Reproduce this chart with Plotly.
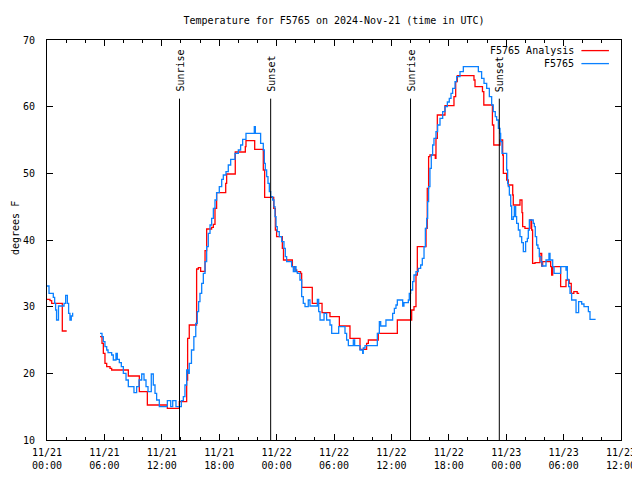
import pandas as pd
import plotly.graph_objects as go

BASE = pd.Timestamp("2024-11-21 00:00")

# Observations (F5765), hours since 2024-11-21 00:00 UTC; None = gap
obs_hours = [0.0, 0.21, 0.66, 0.80, 0.90, 1.0, 1.2, 1.78, 1.95, 2.13, 2.26, 2.40, 2.54, 2.68, 4.0,
             5.54, 5.75, 5.89, 6.06, 6.24, 6.38, 6.76, 6.93, 7.21, 7.35, 7.56, 7.77, 7.98, 8.26, 8.50,
             9.09, 9.37, 9.62, 9.90, 10.14, 10.35, 10.56, 10.90, 11.11, 11.29, 11.46, 11.74, 12.58,
             12.93, 13.14, 13.48, 14.04, 14.25, 14.42, 14.6, 14.77, 14.87, 15.1, 15.35, 15.55, 15.71,
             15.85, 15.99, 16.17, 16.34, 16.52, 16.69, 16.86, 17.04, 17.21, 17.39, 17.56, 17.73, 18.01,
             18.26, 18.43, 18.71, 18.95, 19.20, 19.65, 20.0, 20.24, 20.45, 20.80, 21.67, 21.78, 22.33,
             22.61, 22.72, 22.82, 22.96, 23.10, 23.24, 23.38, 23.59, 23.73, 23.83, 23.94, 24.07, 24.28,
             24.53, 24.77, 24.91, 25.05, 25.57, 25.75, 25.92, 26.03, 26.17, 26.44, 26.62, 26.79, 26.97,
             27.31, 27.49, 28.26, 28.40, 28.54, 28.96, 29.23, 29.58, 29.76, 30.49, 31.15, 31.32, 31.50,
             32.02, 32.16, 32.72, 33.0, 33.06, 33.24, 34.53, 34.74, 34.88, 35.43, 36.13, 36.31, 36.48,
             36.62, 37.18, 37.31, 37.77, 37.87, 38.01, 38.22, 38.36, 38.57, 38.81, 39.06, 39.23, 39.41,
             39.55, 39.69, 39.79, 39.89, 40.03, 40.17, 40.31, 40.45, 40.66, 40.83, 41.08, 41.36, 41.60,
             41.85, 42.05, 42.23, 42.40, 42.65, 42.82, 43.17, 43.52, 45.09, 45.43, 45.68, 45.96, 46.24,
             46.48, 46.65, 46.86, 47.0, 47.18, 47.35, 47.42, 47.56, 48.05, 48.15, 48.22, 48.33, 48.47,
             48.57, 48.74, 48.85, 48.99, 49.09, 49.27, 49.44, 49.62, 49.79, 50.03, 50.21, 50.31, 50.42,
             50.83, 50.94, 51.04, 51.18, 51.32, 51.46, 51.64, 51.74, 52.16, 52.47, 52.58, 52.86, 53.0,
             53.69, 54.25, 54.32, 54.39, 54.53, 54.67, 54.84, 55.30, 55.57, 55.89, 56.13, 56.59, 56.76,
             57.28]
obs_temps = [33.1, 32.0, 31.4, 30.5, 29.5, 28.0, 30.1, 30.5, 31.7, 30.5, 29.0, 28.0, 28.6, 29.1, None,
             26.0, 25.5, 24.75, 24.0, 23.5, 23.1, 22.75, 22.0, 23.0, 22.1, 21.6, 21.0, 20.0, 19.0, 18.0,
             17.1, 18.0, 19.0, 19.9, 19.0, 18.0, 17.25, 19.9, 18.25, 17.0, 16.0, 15.0, 15.9,
             15.0, 15.9, 15.0, 15.9, 16.5, 18.25, 20.5, 20.0, 21.5, 23.5, 25.5, 27.5, 29.25,
             30.75, 32.0, 33.5, 35.0, 36.75, 39.0, 41.0, 42.25, 43.25, 44.75, 46.0, 47.1, 48.0,
             49.1, 49.75, 50.25, 51.25, 52.1, 53.0, 53.5, 54.25, 55.1, 56.0, 57.0, 56.0, 54.5,
             53.5, 51.5, 50.5, 49.5, 48.5, 47.25, 46.5, 46.0, 45.0, 43.5, 42.0, 41.25, 40.5,
             39.75, 38.75, 37.5, 36.75, 36.0, 35.25, 36.0, 35.25, 35.0, 34.0, 31.5, 30.5, 30.0,
             31.0, 30.1, 31.1, 29.25, 28.0, 29.0, 28.0, 27.25, 26.0, 27.0, 26.0, 25.0, 24.15,
             25.0, 24.15, 23.5, 23.0, 23.8, 24.15, 26.0, 27.75, 27.1, 28.0, 29.0, 29.75, 30.25,
             31.0, 30.1, 30.6, 31.0, 32.0, 32.5, 33.75, 34.75, 35.25, 35.75, 36.25, 37.25, 39.0,
             41.75, 43.25, 45.75, 48.0, 50.75, 52.75, 54.25, 55.25, 56.25, 57.25, 58.25, 59.25, 60.0,
             60.7, 61.25, 62.0, 62.75, 63.75, 64.5, 65.25, 66.0, 65.25, 64.25, 63.5, 62.75, 61.5,
             60.25, 59.25, 58.5, 58.0, 56.75, 56.0, 54.75, 53.0, 50.5, 48.5, 48.0, 46.75, 45.1,
             43.1, 43.5, 45.0, 43.5, 42.5, 41.5, 40.5, 39.6, 38.25, 39.75, 40.25, 41.5, 43.0,
             42.5, 42.0, 40.5, 39.25, 38.75, 37.5, 36.75, 36.1, 37.0, 38.0, 37.0, 36.0, 35.0,
             36.0, 35.5, 36.0, 34.1, 33.0, 32.0, 31.0, 29.1, 30.75, 30.4, 30.0, 29.25, 28.1,
             28.0]

# Analysis (F5765 Analysis)
ana_hours = [0.0, 0.31, 0.49, 1.60, 2.06, 4.0,
             5.54, 5.75, 5.89, 6.06, 6.24, 6.59, 6.76, 8.50, 9.65, 10.49, 12.58, 13.83, 14.6, 14.7,
             14.87, 15.64, 15.82, 16.06, 16.52, 16.69, 17.21, 17.39, 17.56, 17.73, 18.68, 18.78, 19.68,
             20.73, 20.80, 21.71, 22.61, 22.75, 23.70, 23.87, 24.0, 24.6, 24.72, 25.65, 25.92, 26.10,
             26.51, 26.62, 27.73, 28.75, 29.58, 30.56, 31.67, 32.72, 33.41, 33.59, 34.63, 36.62, 38.12,
             38.36, 38.57, 38.71, 39.62, 39.75, 39.89, 40.03, 40.59, 40.66, 40.80, 41.60, 42.54, 42.72,
             42.89, 44.63, 44.74, 45.52, 45.66, 46.56, 46.70, 47.35, 47.63, 47.70, 48.05, 48.22, 48.68,
             48.74, 49.44, 49.65, 49.72, 49.96, 50.49, 50.66, 50.76, 51.01, 51.53, 51.71, 51.81, 52.65,
             52.75, 52.86, 53.69, 54.25, 54.59, 54.80, 55.07, 55.42, 55.63]
ana_temps = [31.1, 30.9, 30.5, 26.35, 26.35, None,
             25.5, 24.5, 23.0, 21.5, 21.0, 20.75, 20.5, 19.6, 17.25, 15.25, 14.75, 15.75, 19.0, 25.25,
             27.25, 35.65, 35.85, 35.3, 38.4, 41.65, 41.9, 42.35, 44.75, 47.1, 48.5, 49.9, 53.2,
             54.0, 54.9, 53.6, 50.5, 46.4, 44.75, 41.5, 40.5, 38.75, 37.0, 36.0, 35.5, 35.25,
             35.0, 32.9, 30.5, 29.1, 28.5, 27.1, 25.25, 23.6, 24.5, 25.0, 26.0, 28.0, 29.5,
             30.0, 34.75, 39.0, 41.75, 47.75, 52.5, 52.75, 52.25, 55.25, 58.75, 60.15, 61.5, 63.75,
             64.65, 64.0, 63.0, 62.25, 60.25, 57.25, 54.25, 55.0, 52.75, 50.0, 49.0, 48.25, 46.75,
             45.25, 46.0, 44.1, 42.0, 41.75, 43.0, 41.5, 36.5, 36.6, 38.0, 36.1, 36.75, 36.0,
             34.75, 36.0, 33.0, 34.0, 33.5, 32.0, 32.25, 32.0, 32.0]

event_hours = [13.85, 23.38, 38.0, 47.28]
event_labels = ["Sunrise", "Sunset", "Sunrise", "Sunset"]
event_line_top = 61.2

x_start, x_end = "2024-11-21 00:00", "2024-11-23 12:00"
y_min, y_max, y_step = 10, 70, 10

title_text = "Temperature for F5765 on 2024-Nov-21 (time in UTC)"
y_label = "degrees F"
ana_name, obs_name = "F5765 Analysis", "F5765"
ana_color, obs_color = "#ff0000", "#0a80ff"

FONT = "DejaVu Sans Mono"

# the page body adds an 8px margin; size the figure so the page does not overflow
FIG_W, FIG_H = 632, 464


def to_times(hours):
    return [BASE + pd.Timedelta(hours=h) for h in hours]


fig = go.Figure()
fig.add_trace(go.Scatter(x=to_times(ana_hours), y=ana_temps, mode="lines", name=ana_name,
                         line=dict(color=ana_color, width=1.3, shape="hv"), connectgaps=False))
fig.add_trace(go.Scatter(x=to_times(obs_hours), y=obs_temps, mode="lines", name=obs_name,
                         line=dict(color=obs_color, width=1.3, shape="hv"), connectgaps=False))

for h, lab in zip(event_hours, event_labels):
    t = BASE + pd.Timedelta(hours=h)
    fig.add_shape(type="line", xref="x", yref="y", x0=t, x1=t, y0=y_min, y1=event_line_top,
                  line=dict(color="black", width=1))
    fig.add_annotation(x=t, y=event_line_top + 0.7, xref="x", yref="y", text=lab, textangle=-90,
                       showarrow=False, xanchor="center", yanchor="bottom",
                       font=dict(family=FONT, size=10, color="black"))

# gnuplot-style key (text right, sample line on the right)
for i, (name, col) in enumerate([(ana_name, ana_color), (obs_name, obs_color)]):
    yp = 0.9735 - i * 0.0325
    fig.add_annotation(x=0.921, y=yp, xref="paper", yref="paper", text=name, showarrow=False,
                       xanchor="right", yanchor="middle", font=dict(family=FONT, size=10, color="black"))
    fig.add_shape(type="line", xref="paper", yref="paper", x0=0.931, x1=0.979, y0=yp, y1=yp,
                  line=dict(color=col, width=1.3))

fig.add_annotation(x=-0.0557, y=0.53, xref="paper", yref="paper", text=y_label, textangle=-90,
                   showarrow=False, xanchor="center", yanchor="middle",
                   font=dict(family=FONT, size=10, color="black"))

fig.update_layout(
    width=FIG_W, height=FIG_H,
    margin=dict(l=39, r=19, t=32, b=32, autoexpand=False),
    paper_bgcolor="white", plot_bgcolor="white",
    showlegend=False,
    font=dict(family=FONT, size=10, color="black"),
    title=dict(text=title_text, xref="paper", x=0.5, xanchor="center",
               yref="container", y=1 - 12 / FIG_H, yanchor="middle",
               font=dict(family=FONT, size=10, color="black")),
    xaxis=dict(type="date", range=[x_start, x_end], dtick=6 * 3600 * 1000,
               tick0="2024-11-21 00:00", tickformat="%m/%d<br>%H:%M",
               ticks="inside", ticklen=6, tickcolor="black", tickwidth=1,
               minor=dict(dtick=2 * 3600 * 1000, ticks="inside", ticklen=3, tickcolor="black"),
               showline=True, linecolor="black", linewidth=1, mirror="allticks",
               showgrid=False, zeroline=False, ticklabelstandoff=3, automargin=False,
               ticklabeloverflow="allow"),
    yaxis=dict(range=[y_min, y_max], dtick=y_step, tick0=y_min,
               ticks="inside", ticklen=6, tickcolor="black", tickwidth=1,
               showline=True, linecolor="black", linewidth=1, mirror="allticks",
               showgrid=False, zeroline=False, ticklabelstandoff=9, automargin=False),
)

fig.write_html("out.html")
